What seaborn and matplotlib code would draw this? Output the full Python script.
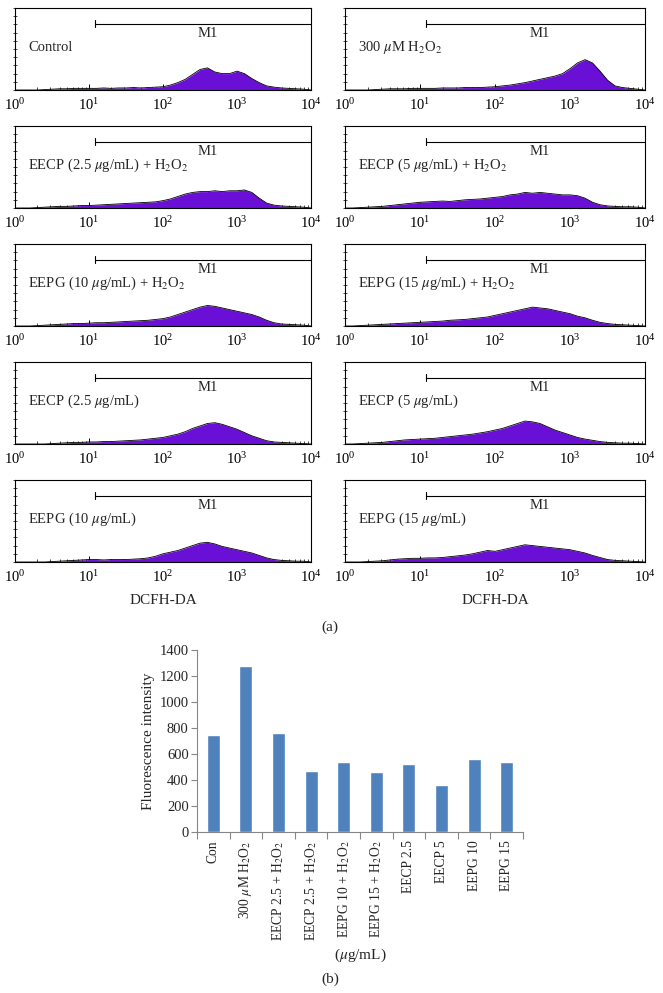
import numpy as np
import matplotlib
matplotlib.use("Agg")
import matplotlib.pyplot as plt
import seaborn as sns

# flow cytometry histograms, heights in % of panel height, sampled every 0.1 decade (10^0 .. 10^4)
log_channels = np.round(np.arange(0, 4.01, 0.1), 1)

panel_labels = [
    "Control",
    r"300 $\mu$M H$_2$O$_2$",
    r"EECP (2.5 $\mu$g/mL) + H$_2$O$_2$",
    r"EECP (5 $\mu$g/mL) + H$_2$O$_2$",
    r"EEPG (10 $\mu$g/mL) + H$_2$O$_2$",
    r"EEPG (15 $\mu$g/mL) + H$_2$O$_2$",
    r"EECP (2.5 $\mu$g/mL)",
    r"EECP (5 $\mu$g/mL)",
    r"EEPG (10 $\mu$g/mL)",
    r"EEPG (15 $\mu$g/mL)",
]

control = [0, 0, 0, 0, 0.5, 1, 1.5, 1.5, 2, 2, 2, 2, 2.5, 2, 2.5, 2.5, 3, 2.5, 3, 3.5,
           4, 6, 9, 13, 19, 25, 27, 22, 20, 20, 23, 20, 14, 9, 5, 3.5, 2.5, 2, 1.5, 1, 0]
h2o2 = [0, 0, 0, 0, 0.5, 1, 1.5, 1.5, 1.5, 2, 2, 2, 2, 2.5, 2.5, 2.5, 3, 3, 3, 3.5,
        4, 5, 6, 7.5, 9, 11, 13, 15, 17, 20, 26, 33, 37, 33, 23, 12, 5, 3, 2, 1, 0]
eecp25_h2o2 = [0, 0, 0, 0.5, 1, 1.5, 2, 2, 2.5, 3, 3, 3.5, 4, 4.5, 5, 5.5, 6, 6.5, 7, 7.5,
               9, 11, 14, 17, 19, 20, 20, 21, 20, 21, 21, 22, 19, 12, 6, 3.5, 2.5, 2, 1.5, 1, 0]
eecp5_h2o2 = [0, 0, 0.5, 1, 1.5, 2, 3, 4, 5, 6, 7, 7.5, 8, 8.5, 8, 9, 10, 10.5, 11, 12,
              13, 14, 16, 17, 19, 18, 19, 18, 17, 16, 16, 15, 12, 7, 4, 2.5, 2, 1.5, 1.5, 1, 0]
eepg10_h2o2 = [0, 0, 0, 0.5, 1, 1.5, 2, 2.5, 3, 3, 3.5, 4, 4, 4.5, 5, 5.5, 6, 6.5, 7, 8,
               9, 11, 14, 17, 20, 23, 25, 24, 22, 20, 18, 16, 14, 11, 7, 4, 2.5, 2, 1.5, 1, 0]
eepg15_h2o2 = [0, 0, 0.5, 1, 1.5, 2, 2.5, 3, 3.5, 4, 4.5, 5, 5.5, 6, 7, 7.5, 8, 9, 10, 11,
               13, 15, 17, 19, 21, 23, 22, 21, 19, 17, 15, 12, 10, 7, 4.5, 3, 2, 1.5, 1, 0.5, 0]
eecp25 = [0, 0, 0, 0, 0, 0.5, 1, 1.5, 2, 2, 2.5, 2.5, 3, 3, 3.5, 4, 4.5, 5, 6, 7,
          8, 10, 12, 15, 19, 22, 25, 26, 24, 21, 18, 14, 10, 7, 4, 2.5, 2, 1.5, 1, 0.5, 0]
eecp5 = [0, 0, 0.5, 1, 1.5, 2, 3, 4, 5, 5.5, 6, 6.5, 7, 8, 9, 10, 11, 12, 13.5, 15,
         17, 19, 22, 25, 28, 27, 25, 21, 17, 14, 11, 8, 6, 4.5, 3, 2, 1.5, 1, 1, 0.5, 0]
eepg10 = [0, 0, 0, 0, 0, 0.5, 1, 1.5, 2, 2.5, 3, 3, 2.5, 3, 3, 3, 3.5, 4, 5, 7,
          10, 12, 14, 17, 20, 23, 24, 22, 19, 17, 15, 13, 11, 8, 5, 3, 2, 1.5, 1, 1, 0]
eepg15 = [0, 0, 0, 0.5, 1, 1.5, 2.5, 3.5, 4, 4.5, 4.5, 5, 5, 5.5, 6.5, 7.5, 8.5, 10, 12, 14,
          13, 15, 17, 19, 21, 20, 19, 18, 17, 16, 15, 13, 11, 8, 5.5, 3, 2, 1.5, 1, 0.5, 0]

histograms = [control, h2o2, eecp25_h2o2, eecp5_h2o2, eepg10_h2o2,
              eepg15_h2o2, eecp25, eecp5, eepg10, eepg15]

# bar chart (b)
bar_labels = [
    "Con",
    r"300 $\mu$M H$_2$O$_2$",
    r"EECP 2.5 + H$_2$O$_2$",
    r"EECP 2.5 + H$_2$O$_2$",
    r"EEPG 10 + H$_2$O$_2$",
    r"EEPG 15 + H$_2$O$_2$",
    "EECP 2.5",
    "EECP 5",
    "EEPG 10",
    "EEPG 15",
]
bar_values = [745, 1277, 760, 470, 539, 462, 521, 360, 560, 539]

sns.set_theme(style="white")
plt.rcParams["font.family"] = ["Liberation Serif", "DejaVu Serif"]
plt.rcParams["mathtext.fontset"] = "stix"
plt.rcParams["font.size"] = 10

W, H = 663, 993
fig = plt.figure(figsize=(W / 100, H / 100), dpi=100)

fill_col = "#6a0fd6"
m1_start = 10 ** 1.08

col_x = [15, 345]
col_w = [296, 300]
row_top = [8, 126, 244, 362, 480]
panel_h = 82

for i, (lab, hist) in enumerate(zip(panel_labels, histograms)):
    r, c = divmod(i, 2)
    ax = fig.add_axes([col_x[c] / W, 1 - (row_top[r] + panel_h) / H,
                       col_w[c] / W, panel_h / H])
    xs = 10 ** log_channels
    ax.fill_between(xs, 0, hist, color=fill_col, lw=0)
    sns.lineplot(x=xs, y=hist, ax=ax, color="black", lw=0.6)
    ax.set_xscale("log")
    ax.set_xlim(1, 1e4)
    ax.set_ylim(0, 100)
    ax.set_xlabel("")
    ax.set_ylabel("")
    for s in ax.spines.values():
        s.set_color("black")
        s.set_linewidth(0.8)
    ax.tick_params(axis="x", which="major", direction="in", length=4, width=0.7,
                   pad=5, labelsize=10.5, bottom=True, colors="black")
    ax.tick_params(axis="x", which="minor", direction="in", length=2, width=0.5,
                   bottom=True, colors="black")
    ax.set_yticks(np.arange(0, 101, 10))
    ax.set_yticklabels([])
    ax.tick_params(axis="y", which="major", direction="inout", length=3, width=0.5,
                   left=True, colors="black")
    ax.set_xticks([1, 10, 100, 1000, 10000])

    # M1 marker
    ax.plot([m1_start, 1e4], [81, 81], color="black", lw=0.8)
    ax.plot([m1_start, m1_start], [77, 85], color="black", lw=0.8)
    ax.text(10 ** 2.6, 69, "M1", ha="center", va="center", fontsize=10.5)
    ax.text(0.045, 0.48, lab, transform=ax.transAxes, ha="left",
            va="baseline", fontsize=10.5)

for c in range(2):
    fig.text((col_x[c] + col_w[c] / 2) / W, 1 - 600 / H, "DCFH-DA",
             ha="center", va="center", fontsize=11)
fig.text(330 / W, 1 - 627 / H, "(a)", ha="center", va="center", fontsize=11)

# bar chart
bx0, bx1, by0, by1 = 197, 523, 650, 832
bax = fig.add_axes([bx0 / W, 1 - by1 / H, (bx1 - bx0) / W, (by1 - by0) / H])
idx = list(range(len(bar_values)))
sns.barplot(x=idx, y=bar_values, ax=bax, color="#4f81bd", width=0.4,
            saturation=1)
bax.set_xlim(-0.5, 9.5)
bax.set_ylim(0, 1400)
bax.set_yticks(range(0, 1401, 200))
bax.set_xticks([k - 0.5 for k in range(11)])
bax.set_xticklabels([])
bax.set_xticks(idx, minor=True)
bax.set_xticklabels(bar_labels, minor=True, rotation=90, va="top", ha="center",
                    fontsize=9.8)
bax.tick_params(axis="x", which="minor", length=0, pad=6)
bax.tick_params(axis="x", which="major", direction="out", length=5, width=0.8,
                color="#868686", bottom=True)
bax.tick_params(axis="y", direction="out", length=4, width=0.8, color="#868686",
                labelsize=10.5, left=True, pad=2)
for s in ["top", "right"]:
    bax.spines[s].set_visible(False)
for s in ["left", "bottom"]:
    bax.spines[s].set_color("#868686")
    bax.spines[s].set_linewidth(0.8)
bax.set_xlabel("")
bax.set_ylabel("Fluorescence intensity", fontsize=11, labelpad=3)
fig.text(360 / W, 1 - 955 / H, r"($\mu$g/mL)", ha="center", va="center",
         fontsize=11)
fig.text(330 / W, 1 - 979 / H, "(b)", ha="center", va="center", fontsize=11)

fig.savefig("out.png", dpi=100)
